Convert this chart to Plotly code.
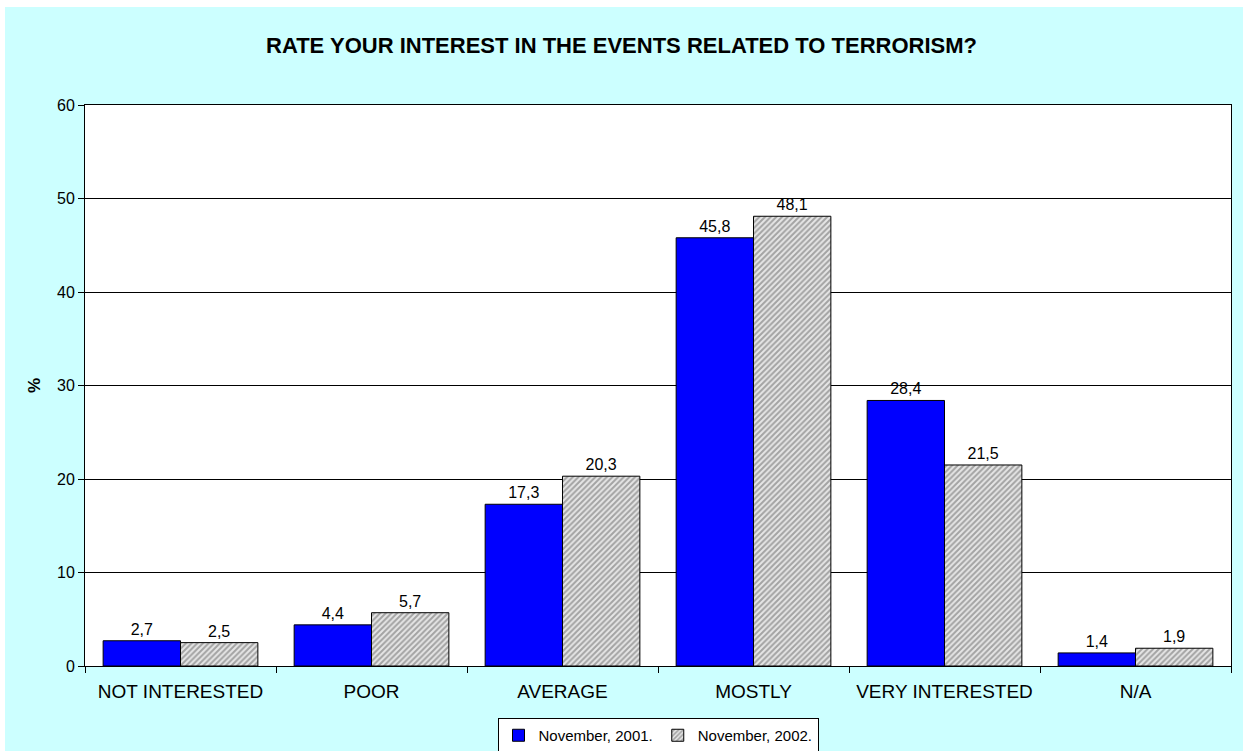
import plotly.graph_objects as go

categories = ["NOT INTERESTED", "POOR", "AVERAGE", "MOSTLY", "VERY INTERESTED", "N/A"]
nov_2001 = [2.7, 4.4, 17.3, 45.8, 28.4, 1.4]
nov_2002 = [2.5, 5.7, 20.3, 48.1, 21.5, 1.9]
y_ticks = [0, 10, 20, 30, 40, 50, 60]

FONT = "Liberation Sans, Arial, sans-serif"


def comma_labels(values):
    return [f"{v:.1f}".replace(".", ",") for v in values]


fig = go.Figure()
fig.add_trace(go.Bar(
    name="November, 2001.",
    x=categories, y=nov_2001,
    text=comma_labels(nov_2001), textposition="outside",
    textfont=dict(size=16, color="black", family=FONT),
    constraintext="none",
    marker=dict(color="#0000FF", line=dict(color="black", width=1)),
    cliponaxis=False,
))
fig.add_trace(go.Bar(
    name="November, 2002.",
    x=categories, y=nov_2002,
    text=comma_labels(nov_2002), textposition="outside",
    textfont=dict(size=16, color="black", family=FONT),
    constraintext="none",
    marker=dict(
        color="#B0B0B0",
        line=dict(color="black", width=1),
        pattern=dict(shape="/", fgcolor="#606060", bgcolor="#E6E6E6", size=4, solidity=0.5),
    ),
    cliponaxis=False,
))

W, H = 1243, 751
L, R, T, B = 85, 12, 105, 85
pw, ph = W - L - R, H - T - B

fig.update_layout(
    width=W, height=H,
    margin=dict(l=L, r=R, t=T, b=B, autoexpand=False),
    paper_bgcolor="#CCFFFF",
    plot_bgcolor="white",
    barmode="group",
    bargap=0.19,
    bargroupgap=0,
    font=dict(family=FONT, color="black"),
    title=dict(
        text="<b>RATE YOUR INTEREST IN THE EVENTS RELATED TO TERRORISM?</b>",
        x=0.5, xref="container", xanchor="center",
        y=1 - 45 / H, yanchor="middle",
        font=dict(size=22, family=FONT, color="black"),
    ),
    xaxis=dict(
        type="category",
        tickson="boundaries",
        ticks="outside", ticklen=6, tickcolor="black",
        ticklabelstandoff=8,
        showline=True, linecolor="black", linewidth=1, mirror=True,
        tickfont=dict(size=19, family=FONT, color="black"),
        showgrid=False,
    ),
    yaxis=dict(
        range=[0, 60],
        tickvals=y_ticks,
        ticks="outside", ticklen=6, tickcolor="black",
        showline=True, linecolor="black", linewidth=1, mirror=True,
        showgrid=True, gridcolor="black", gridwidth=1,
        zeroline=False,
        tickfont=dict(size=16, family=FONT, color="black"),
        title=dict(text="<b>%</b>", font=dict(size=17, family=FONT, color="black"), standoff=12),
    ),
    legend=dict(
        orientation="h",
        x=0.5, xanchor="center",
        y=-(718 - (T + ph)) / ph, yanchor="top",
        bgcolor="white", bordercolor="black", borderwidth=1,
        font=dict(size=15, family=FONT, color="black"),
        itemwidth=30,
        tracegroupgap=0,
    ),
    shapes=[
        # thin white strips along the top and left edges of the page
        dict(type="rect", xref="paper", yref="paper",
             x0=-L / pw, x1=1 + R / pw, y0=(ph + T - 7) / ph, y1=(ph + T) / ph,
             fillcolor="white", line=dict(width=0), layer="above"),
        dict(type="rect", xref="paper", yref="paper",
             x0=-L / pw, x1=-(L - 5) / pw, y0=-B / ph, y1=(ph + T) / ph,
             fillcolor="white", line=dict(width=0), layer="above"),
    ],
)

fig.write_html("out.html")
